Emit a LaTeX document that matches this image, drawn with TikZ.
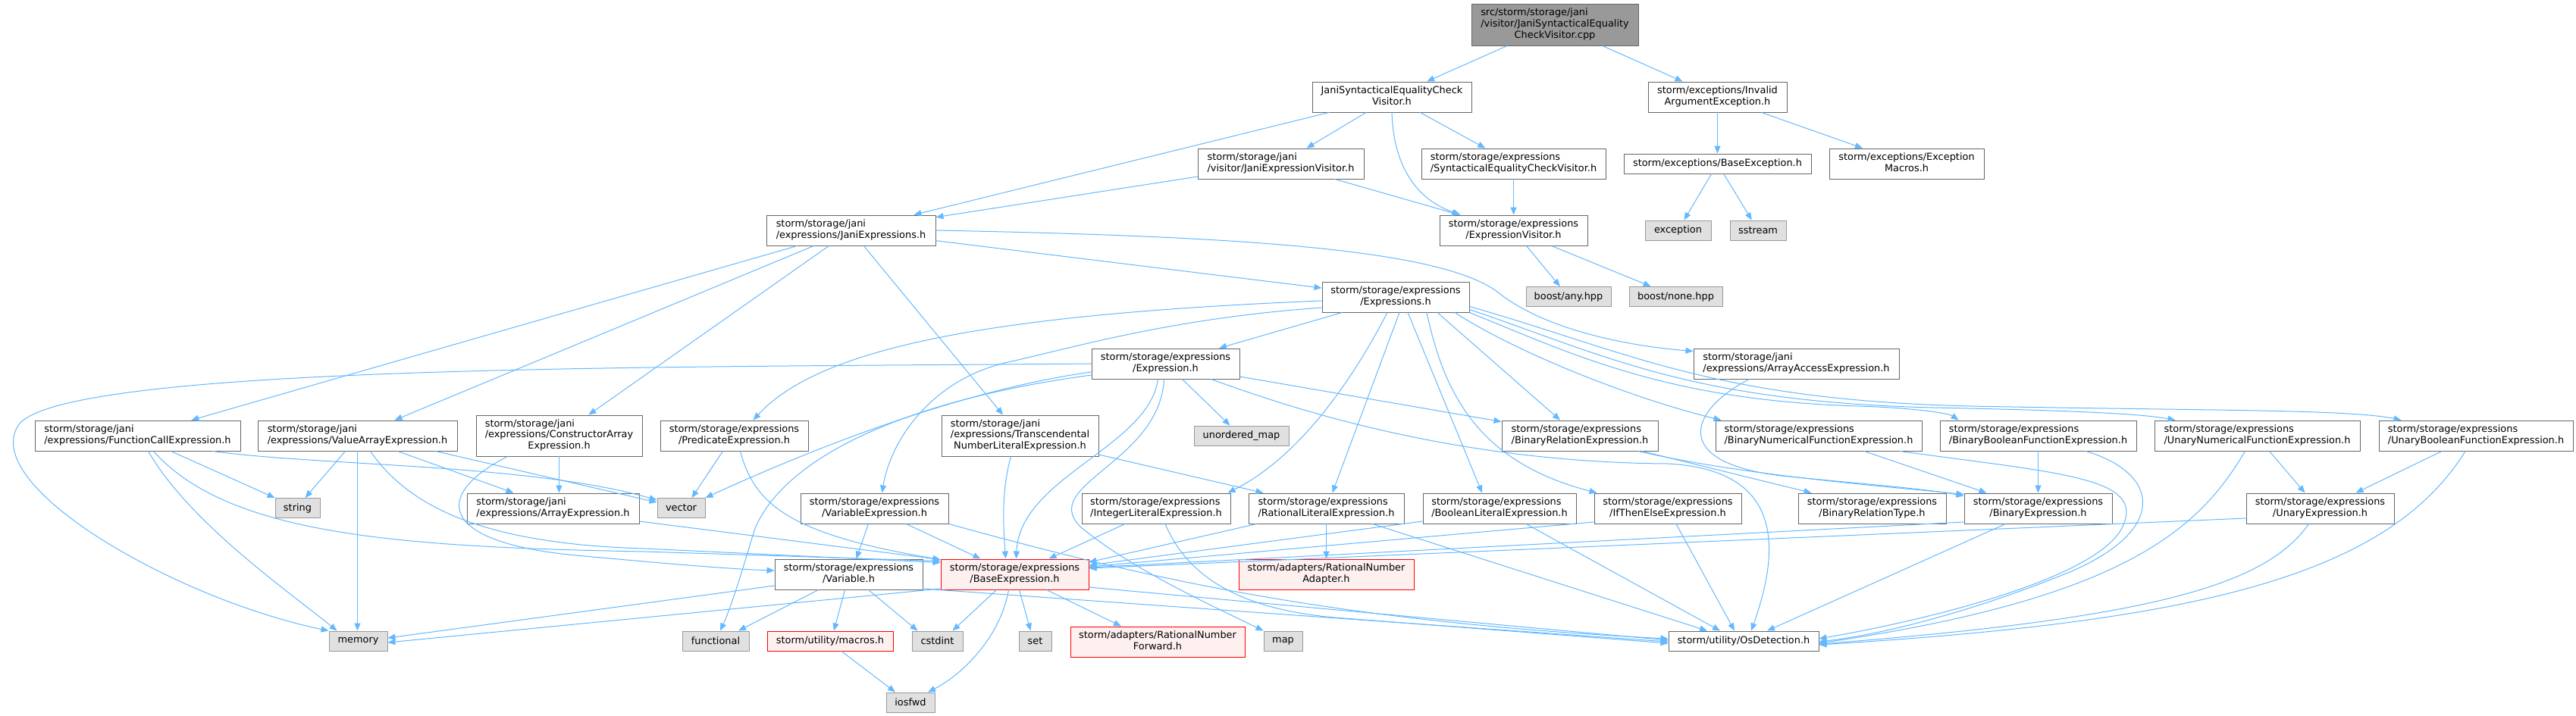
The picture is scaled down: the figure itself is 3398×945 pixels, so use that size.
\documentclass[tikz,border=0pt]{standalone}
\usepackage{fontspec}
\usetikzlibrary{arrows.meta}
\newfontfamily\doxfont{DejaVu Sans}
\definecolor{DoxEdge}{HTML}{63B8FF}
\definecolor{DoxLine}{HTML}{666666}
\definecolor{DoxRoot}{HTML}{999999}
\definecolor{DoxSysLine}{HTML}{999999}
\definecolor{DoxSysFill}{HTML}{E0E0E0}
\definecolor{DoxCutFill}{HTML}{FFF0F0}
% first lines left, last line centred (as doxygen sets them)
\newcommand{\twoline}[2]{\begin{tabular}{@{}l@{}}#1\\\multicolumn{1}{@{}c@{}}{#2}\end{tabular}}
\newcommand{\threeline}[3]{\begin{tabular}{@{}l@{}}#1\\#2\\\multicolumn{1}{@{}c@{}}{#3}\end{tabular}}

\begin{document}
\begin{tikzpicture}[x=1pt, y=1pt,
    hfile/.style={rectangle, draw=DoxLine, fill=white, line width=0.95pt,
                  inner sep=0pt, minimum height=40pt,
                  font=\doxfont\fontsize{12.9}{14.7}\selectfont},
    rootfile/.style={hfile, fill=DoxRoot},
    sysfile/.style={hfile, draw=DoxSysLine, fill=DoxSysFill, minimum height=26pt},
    redfile/.style={hfile, draw=red, fill=DoxCutFill},
    inc/.style={draw=DoxEdge, line width=1pt, -{Triangle[length=10pt,width=8pt]}}
  ]
  \useasboundingbox (0,0) rectangle (3398,-945);
  \fill[white] (0,0) rectangle (3398,-945);

  % source file and its headers
  \node[rootfile, minimum width=220pt, minimum height=55pt] (root) at (2051,-32.5)
    {\threeline{src/storm/storage/jani}{/visitor/JaniSyntacticalEquality}{CheckVisitor.cpp}};
  \node[hfile, minimum width=210pt] (jsecv) at (1836,-128) {\twoline{JaniSyntacticalEqualityCheck}{Visitor.h}};
  \node[hfile, minimum width=183pt] (invarg) at (2265.5,-128) {\twoline{storm/exceptions/Invalid}{ArgumentException.h}};
  \node[hfile, minimum width=219pt] (janivisitor) at (1689.5,-216) {\twoline{storm/storage/jani}{/visitor/JaniExpressionVisitor.h}};
  \node[hfile, minimum width=243pt] (syntvisitor) at (1996.5,-216) {\twoline{storm/storage/expressions}{/SyntacticalEqualityCheckVisitor.h}};
  \node[hfile, minimum width=247pt, minimum height=26pt] (baseexc) at (2265.5,-216) {storm/exceptions/BaseException.h};
  \node[hfile, minimum width=204pt] (excmacros) at (2515,-216) {\twoline{storm/exceptions/Exception}{Macros.h}};
  \node[hfile, minimum width=223pt] (janiexprs) at (1122.5,-304) {\twoline{storm/storage/jani}{/expressions/JaniExpressions.h}};
  \node[hfile, minimum width=195pt] (exprvisitor) at (1996.5,-304) {\twoline{storm/storage/expressions}{/ExpressionVisitor.h}};
  \node[sysfile, minimum width=87pt] (exception) at (2213.5,-304) {exception};
  \node[sysfile, minimum width=74pt] (sstream) at (2319,-304) {sstream};
  \node[sysfile, minimum width=112pt] (anyhpp) at (2069,-391.5) {boost/any.hpp};
  \node[sysfile, minimum width=123pt] (nonehpp) at (2210.5,-391.5) {boost/none.hpp};
  \node[hfile, minimum width=194pt] (exprs) at (1841,-392) {\twoline{storm/storage/expressions}{/Expressions.h}};
  \node[hfile, minimum width=195pt] (expression) at (1537.5,-480) {\twoline{storm/storage/expressions}{/Expression.h}};
  \node[hfile, minimum width=271pt] (arrayaccess) at (2369.5,-480) {\twoline{storm/storage/jani}{/expressions/ArrayAccessExpression.h}};

  % expression headers, upper row
  \node[hfile, minimum width=271pt] (funccall) at (181.5,-575) {\twoline{storm/storage/jani}{/expressions/FunctionCallExpression.h}};
  \node[hfile, minimum width=263pt] (valuearray) at (471.5,-575) {\twoline{storm/storage/jani}{/expressions/ValueArrayExpression.h}};
  \node[hfile, minimum width=219pt, minimum height=54pt] (constrarray) at (737.5,-575)
    {\threeline{storm/storage/jani}{/expressions/ConstructorArray}{Expression.h}};
  \node[hfile, minimum width=195pt] (predicate) at (968.5,-575) {\twoline{storm/storage/expressions}{/PredicateExpression.h}};
  \node[hfile, minimum width=207pt, minimum height=54pt] (transc) at (1345.5,-575)
    {\threeline{storm/storage/jani}{/expressions/Transcendental}{NumberLiteralExpression.h}};
  \node[sysfile, minimum width=125pt] (umap) at (1637.5,-575) {unordered\_map};
  \node[hfile, minimum width=206pt] (binrel) at (2084,-575) {\twoline{storm/storage/expressions}{/BinaryRelationExpression.h}};
  \node[hfile, minimum width=272pt] (binnum) at (2399,-575) {\twoline{storm/storage/expressions}{/BinaryNumericalFunctionExpression.h}};
  \node[hfile, minimum width=259pt] (binbool) at (2688.5,-575) {\twoline{storm/storage/expressions}{/BinaryBooleanFunctionExpression.h}};
  \node[hfile, minimum width=271pt] (unnum) at (2977.5,-575) {\twoline{storm/storage/expressions}{/UnaryNumericalFunctionExpression.h}};
  \node[hfile, minimum width=256pt] (unbool) at (3266,-575) {\twoline{storm/storage/expressions}{/UnaryBooleanFunctionExpression.h}};

  % expression headers, lower row
  \node[sysfile, minimum width=59pt] (string) at (392.5,-670.5) {string};
  \node[sysfile, minimum width=63pt] (vector) at (898.5,-670.5) {vector};
  \node[hfile, minimum width=227pt] (arrayexpr) at (729.5,-671) {\twoline{storm/storage/jani}{/expressions/ArrayExpression.h}};
  \node[hfile, minimum width=195pt] (varexpr) at (1153.5,-671) {\twoline{storm/storage/expressions}{/VariableExpression.h}};
  \node[hfile, minimum width=196pt] (intlit) at (1525,-671) {\twoline{storm/storage/expressions}{/IntegerLiteralExpression.h}};
  \node[hfile, minimum width=205pt] (ratlit) at (1749.5,-671) {\twoline{storm/storage/expressions}{/RationalLiteralExpression.h}};
  \node[hfile, minimum width=202pt] (boollit) at (1978,-671) {\twoline{storm/storage/expressions}{/BooleanLiteralExpression.h}};
  \node[hfile, minimum width=194pt] (ite) at (2200,-671) {\twoline{storm/storage/expressions}{/IfThenElseExpression.h}};
  \node[hfile, minimum width=195pt] (binreltype) at (2469.5,-671) {\twoline{storm/storage/expressions}{/BinaryRelationType.h}};
  \node[hfile, minimum width=195pt] (binexpr) at (2688.5,-671) {\twoline{storm/storage/expressions}{/BinaryExpression.h}};
  \node[hfile, minimum width=195pt] (unexpr) at (3060.5,-671) {\twoline{storm/storage/expressions}{/UnaryExpression.h}};

  % base layer
  \node[hfile, minimum width=195pt] (variable) at (1119.5,-758) {\twoline{storm/storage/expressions}{/Variable.h}};
  \node[redfile, minimum width=195pt] (baseexpr) at (1338.5,-758) {\twoline{storm/storage/expressions}{/BaseExpression.h}};
  \node[redfile, minimum width=231pt] (rnadapter) at (1749.5,-758) {\twoline{storm/adapters/RationalNumber}{Adapter.h}};
  \node[sysfile, minimum width=77pt] (memory) at (472.5,-846) {memory};
  \node[sysfile, minimum width=88pt] (functional) at (944,-846) {functional};
  \node[redfile, minimum width=166pt, minimum height=26pt] (macros) at (1095,-846) {storm/utility/macros.h};
  \node[sysfile, minimum width=67pt] (cstdint) at (1236.5,-846) {cstdint};
  \node[sysfile, minimum width=43pt] (set) at (1365.5,-846) {set};
  \node[redfile, minimum width=230pt] (rnforward) at (1527,-847) {\twoline{storm/adapters/RationalNumber}{Forward.h}};
  \node[sysfile, minimum width=51pt] (map) at (1692.5,-846) {map};
  \node[hfile, minimum width=198pt, minimum height=26pt] (osdet) at (2300,-846) {storm/utility/OsDetection.h};
  \node[sysfile, minimum width=64pt] (iosfwd) at (1201,-927) {iosfwd};

  % top of the graph
  \draw[inc] (root) -- (jsecv);
  \draw[inc] (root) -- (invarg);
  \draw[inc] (jsecv) -- (janiexprs);
  \draw[inc] (jsecv) -- (janivisitor);
  \draw[inc] (jsecv) -- (syntvisitor);
  \draw[inc] (jsecv.south) .. controls (1838,-215) and (1865,-262) .. ([xshift=28pt]exprvisitor.north west);
  \draw[inc] (invarg) -- (baseexc);
  \draw[inc] (invarg) -- (excmacros);
  \draw[inc] (baseexc) -- (exception);
  \draw[inc] (baseexc) -- (sstream);
  \draw[inc] (janivisitor) -- (janiexprs);
  \draw[inc] (janivisitor) -- (exprvisitor);
  \draw[inc] (syntvisitor) -- (exprvisitor);
  \draw[inc] (exprvisitor) -- (anyhpp);
  \draw[inc] (exprvisitor) -- (nonehpp);

  % JaniExpressions.h
  \draw[inc] (janiexprs) -- (exprs);
  \draw[inc] (janiexprs.east) .. controls (1650,-312) and (1900,-330) .. (1975,-385)
    .. controls (2030,-430) and (2130,-455) .. ([yshift=-4pt]arrayaccess.north west);
  \draw[inc] (janiexprs) -- (funccall);
  \draw[inc] (janiexprs) -- (valuearray);
  \draw[inc] (janiexprs) -- (constrarray);
  \draw[inc] (janiexprs) -- (transc);

  % Expressions.h
  \draw[inc] (exprs) -- (expression);
  \draw[inc] ([yshift=-5pt]exprs.west) .. controls (1300,-415) and (1080,-460) .. ([xshift=25pt]predicate.north);
  \draw[inc] ([yshift=-14pt]exprs.west) .. controls (1550,-420) and (1430,-455) .. (1330,-478)
    .. controls (1230,-500) and (1175,-580) .. ([xshift=10pt]varexpr.north);
  \draw[inc] ([xshift=-11pt]exprs.south) .. controls (1790,-490) and (1720,-600) .. ([xshift=-4pt]intlit.north east);
  \draw[inc] ([xshift=5pt]exprs.south) -- ([xshift=8pt]ratlit.north);
  \draw[inc] ([xshift=16pt]exprs.south) -- ([xshift=-23pt]boollit.north);
  \draw[inc] ([xshift=41pt]exprs.south) .. controls (1905,-520) and (1950,-610) .. ([xshift=4pt]ite.north west);
  \draw[inc] ([xshift=55pt]exprs.south) -- ([xshift=-26pt]binrel.north);
  \draw[inc] ([xshift=78pt]exprs.south) .. controls (2000,-465) and (2150,-525) .. ([xshift=8pt]binnum.north west);
  \draw[inc] (exprs.south east) .. controls (2080,-470) and (2200,-528) .. (2450,-536)
    .. controls (2520,-538) and (2570,-545) .. ([xshift=25pt]binbool.north west);
  \draw[inc] ([yshift=4pt]exprs.south east) .. controls (2120,-470) and (2230,-530) .. (2550,-538)
    .. controls (2700,-541) and (2820,-545) .. ([xshift=28pt]unnum.north west);
  \draw[inc] ([yshift=8pt]exprs.south east) .. controls (2150,-465) and (2260,-528) .. (2600,-536)
    .. controls (2900,-542) and (3100,-540) .. ([xshift=30pt]unbool.north west);

  % Expression.h
  \draw[inc] (expression.west) .. controls (900,-485) and (90,-480) .. (25,-560)
    .. controls (-30,-640) and (230,-790) .. (memory.north west);
  \draw[inc] ([yshift=-11pt]expression.west) .. controls (1300,-510) and (1120,-570) .. (vector.north east);
  \draw[inc] ([yshift=-15pt]expression.west) .. controls (1180,-530) and (1030,-610) .. (995,-700)
    .. controls (980,-750) and (965,-800) .. ([xshift=6pt]functional.north);
  \draw[inc] ([xshift=22pt]expression.south) -- ([xshift=-15pt]umap.north);
  \draw[inc] ([xshift=-10pt]expression.south) .. controls (1515,-590) and (1345,-630) .. ([xshift=2pt]baseexpr.north);
  \draw[inc] ([xshift=-2pt]expression.south) .. controls (1530,-610) and (1370,-640) .. (1425,-695)
    .. controls (1490,-750) and (1600,-800) .. (map.north west);
  \draw[inc] ([yshift=-17pt]expression.east) -- ([yshift=-2pt]binrel.north west);
  \draw[inc] ([xshift=60pt]expression.south) .. controls (1680,-530) and (1900,-610) .. (2200,-612)
    .. controls (2350,-620) and (2350,-720) .. ([xshift=10pt]osdet.north);

  % jani expressions
  \draw[inc] ([xshift=44pt]funccall.south) -- (string.north west);
  \draw[inc] ([xshift=14pt]funccall.south) .. controls (250,-690) and (380,-780) .. ([xshift=-28pt]memory.north);
  \draw[inc] ([xshift=99pt]funccall.south) .. controls (420,-615) and (700,-612) .. ([yshift=-3pt]vector.north west);
  \draw[inc] ([xshift=21pt]funccall.south) .. controls (300,-705) and (520,-722) .. (850,-728)
    -- ([yshift=-3pt]baseexpr.north west);
  \draw[inc] ([xshift=-16pt]valuearray.south) -- ([xshift=10pt]string.north);
  \draw[inc] (valuearray.south) -- (valuearray.south |- memory.north);
  \draw[inc] ([xshift=53pt]valuearray.south) -- ([xshift=-52pt]arrayexpr.north);
  \draw[inc] ([xshift=103pt]valuearray.south) -- ([yshift=-6pt]vector.north west);
  \draw[inc] ([xshift=17pt]valuearray.south) .. controls (540,-670) and (640,-718) .. (850,-724)
    -- ([yshift=-5pt]baseexpr.north west);
  \draw[inc] (constrarray.south) -- (constrarray.south |- arrayexpr.north);
  \draw[inc] ([xshift=-68pt]constrarray.south) .. controls (575,-650) and (570,-715) .. (760,-733)
    .. controls (870,-743) and (960,-751) .. ([yshift=5pt]variable.west);
  \draw[inc] ([yshift=-17pt]arrayexpr.east) -- ([yshift=-1pt]baseexpr.north west);

  % predicate, literals, variables
  \draw[inc] ([xshift=-15pt]predicate.south) -- ([xshift=14pt]vector.north);
  \draw[inc] ([xshift=8pt]predicate.south) .. controls (995,-665) and (1040,-705) .. ([yshift=-1pt]baseexpr.north west);
  \draw[inc] ([xshift=-12pt]transc.south) .. controls (1320,-650) and (1324,-700) .. ([xshift=-12pt]baseexpr.north);
  \draw[inc] ([yshift=-25pt]transc.east) -- ([xshift=20pt]ratlit.north west);
  \draw[inc] ([xshift=-8pt]varexpr.south) -- ([xshift=10pt]variable.north);
  \draw[inc] ([xshift=42pt]varexpr.south) -- ([xshift=-45pt]baseexpr.north);
  \draw[inc] (varexpr.south east) .. controls (1500,-760) and (1750,-820) .. ([yshift=3pt]osdet.west);
  \draw[inc] ([yshift=-15pt]variable.west) -- ([yshift=4pt]memory.east);
  \draw[inc] ([xshift=-40pt]variable.south) -- ([xshift=30pt]functional.north);
  \draw[inc] ([xshift=-5pt]variable.south) -- ([xshift=5pt]macros.north);
  \draw[inc] ([xshift=26pt]variable.south) -- ([xshift=-26pt]cstdint.north);
  \draw[inc] ([yshift=-19pt]variable.east) -- ([yshift=-1pt]osdet.west);
  \draw[inc] ([xshift=-41pt]intlit.south) -- ([xshift=45pt]baseexpr.north);
  \draw[inc] ([xshift=12pt]intlit.south) .. controls (1570,-770) and (1650,-805) .. (1760,-815)
    -- ([yshift=-3pt]osdet.west);
  \draw[inc] ([xshift=-92pt]ratlit.south) -- ([yshift=16pt]baseexpr.east);
  \draw[inc] (ratlit.south) -- (ratlit.south |- rnadapter.north);
  \draw[inc] ([xshift=61pt]ratlit.south) -- ([xshift=-48pt]osdet.north);
  \draw[inc] ([yshift=-17pt]boollit.west) -- ([yshift=12pt]baseexpr.east);
  \draw[inc] ([xshift=35pt]boollit.south) -- ([xshift=-31pt]osdet.north);
  \draw[inc] ([yshift=-18pt]ite.west) -- ([yshift=10pt]baseexpr.east);
  \draw[inc] ([xshift=11pt]ite.south) -- ([xshift=-12pt]osdet.north);

  % BaseExpression.h and macros.h
  \draw[inc] ([yshift=-19pt]baseexpr.west) -- ([yshift=-2pt]memory.east);
  \draw[inc] ([xshift=-24pt]baseexpr.south) -- ([xshift=20pt]cstdint.north);
  \draw[inc] ([xshift=-8pt]baseexpr.south) .. controls (1320,-840) and (1270,-890) .. ([xshift=23pt]iosfwd.north);
  \draw[inc] ([xshift=6pt]baseexpr.south) -- ([xshift=-6pt]set.north);
  \draw[inc] ([xshift=42pt]baseexpr.south) -- ([xshift=-48pt]rnforward.north);
  \draw[inc] ([yshift=-17pt]baseexpr.east) -- ([yshift=1pt]osdet.west);
  \draw[inc] ([xshift=15pt]macros.south) -- ([xshift=-20pt]iosfwd.north);

  % binary and unary expressions
  \draw[inc] ([xshift=82pt]binrel.south) -- ([xshift=-80pt]binreltype.north);
  \draw[inc] ([xshift=77pt]binrel.south) .. controls (2300,-628) and (2500,-643) .. ([yshift=-2pt]binexpr.north west);
  \draw[inc] ([xshift=-62pt]arrayaccess.south) .. controls (2230,-540) and (2200,-610) .. (2350,-628)
    .. controls (2450,-638) and (2540,-645) .. ([yshift=-4pt]binexpr.north west);
  \draw[inc] ([xshift=60pt]binnum.south) -- ([xshift=-68pt]binexpr.north);
  \draw[inc] ([xshift=107pt]binnum.south) .. controls (2720,-625) and (2830,-630) .. (2800,-695)
    .. controls (2770,-760) and (2560,-815) .. ([yshift=3pt]osdet.east);
  \draw[inc] (binbool.south) -- (binexpr.north);
  \draw[inc] ([xshift=63pt]binbool.south) .. controls (2850,-625) and (2860,-700) .. (2730,-755)
    .. controls (2620,-800) and (2500,-835) .. ([yshift=-1pt]osdet.east);
  \draw[inc] ([xshift=16pt]unnum.south) -- ([xshift=-20pt]unexpr.north);
  \draw[inc] ([xshift=-16pt]unnum.south) .. controls (2900,-700) and (2800,-790) .. ([yshift=-3pt]osdet.east);
  \draw[inc] ([xshift=-45pt]unbool.south) -- ([xshift=47pt]unexpr.north);
  \draw[inc] ([xshift=-14pt]unbool.south) .. controls (3150,-760) and (2900,-820) .. ([yshift=-5pt]osdet.east);
  \draw[inc] ([yshift=-13pt]unexpr.west) -- ([yshift=8pt]baseexpr.east);
  \draw[inc] ([xshift=-15pt]unexpr.south) .. controls (2990,-770) and (2850,-815) .. ([yshift=-4pt]osdet.east);
  \draw[inc] ([yshift=-18pt]binexpr.west) -- ([yshift=9pt]baseexpr.east);
  \draw[inc] ([xshift=-43pt]binexpr.south) -- ([xshift=31pt]osdet.north);
\end{tikzpicture}
\end{document}
